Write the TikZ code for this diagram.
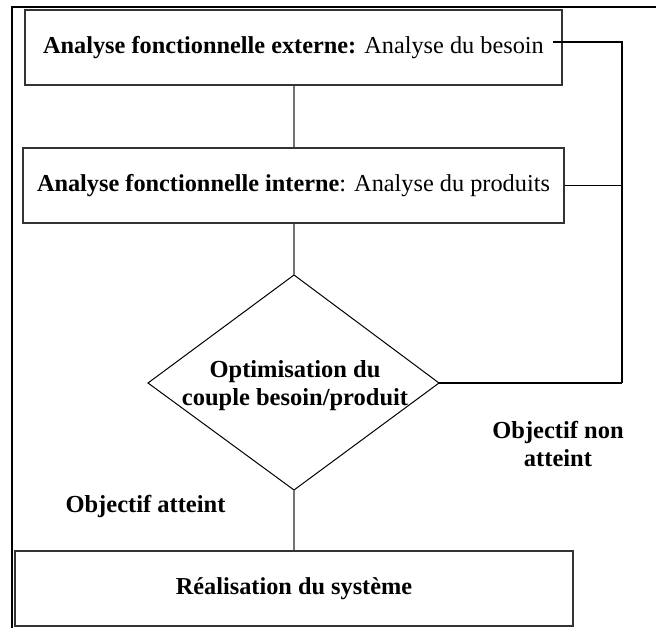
\documentclass[tikz,border=0pt]{standalone}
\usepackage{fontspec}
\setmainfont{Liberation Serif}
\usetikzlibrary{shadows}
\begin{document}
\begin{tikzpicture}[x=1pt,y=-1pt,
  stepbox/.style={draw=black!80, line width=1.2pt, fill=white, rectangle,
    inner sep=0pt, font=\fontsize{24.3}{28}\selectfont,
    drop shadow={shadow xshift=1.4pt, shadow yshift=-1.4pt, fill=black!35, opacity=1}},
  link/.style={draw=black!55, line width=1.8pt},
  loopline/.style={draw=black, line width=1.2pt},
  decision/.style={draw=black, line width=1pt, line join=miter},
  lbl/.style={font=\fontsize{24.5}{28}\selectfont\bfseries, align=center, inner sep=0pt}]
  \useasboundingbox (0,0) rectangle (656,628);

  % outer frame (left and top rules)
  \draw[line width=2.2pt] (12,629) -- (12,7) -- (656,7);

  % process boxes
  \node[stepbox, minimum width=537pt, minimum height=75pt] (ext) at (293.5,47.5)
    {\textbf{Analyse fonctionnelle externe:} Analyse du besoin};
  \node[stepbox, minimum width=541pt, minimum height=75pt] (int) at (293.5,185.5)
    {\textbf{Analyse fonctionnelle interne}: Analyse du produits};
  \node[stepbox, minimum width=558pt, minimum height=75pt] (real) at (294,588.5)
    {\textbf{Réalisation du système}};

  % decision diamond
  \coordinate (dtop) at (294,275);
  \coordinate (dleft) at (148,383);
  \coordinate (dright) at (439,383);
  \coordinate (dbot) at (294,490);
  \draw[decision] (dtop) -- (dright) -- (dbot) -- (dleft) -- cycle;
  \node[lbl] (opt) at (295,386) {Optimisation du\\couple besoin/produit};

  % vertical flow
  \draw[link] (ext.south -| dtop) -- (int.north -| dtop);
  \draw[link] (int.south -| dtop) -- (dtop);
  \draw[link] (dbot) -- (real.north -| dbot);

  % feedback loop on the right
  \coordinate (extout) at (553,42);
  \coordinate (loop) at (622,383);
  \draw[loopline] (extout) -| (loop);
  \draw[loopline] (int.east) -- (int.east -| loop);
  \draw[loopline] (dright) -- (loop);

  % branch labels
  \node[lbl, anchor=base] (ok) at (145.5,512) {Objectif atteint};
  \node[lbl] (nok) at (558,444) {Objectif non\\atteint};
\end{tikzpicture}
\end{document}
